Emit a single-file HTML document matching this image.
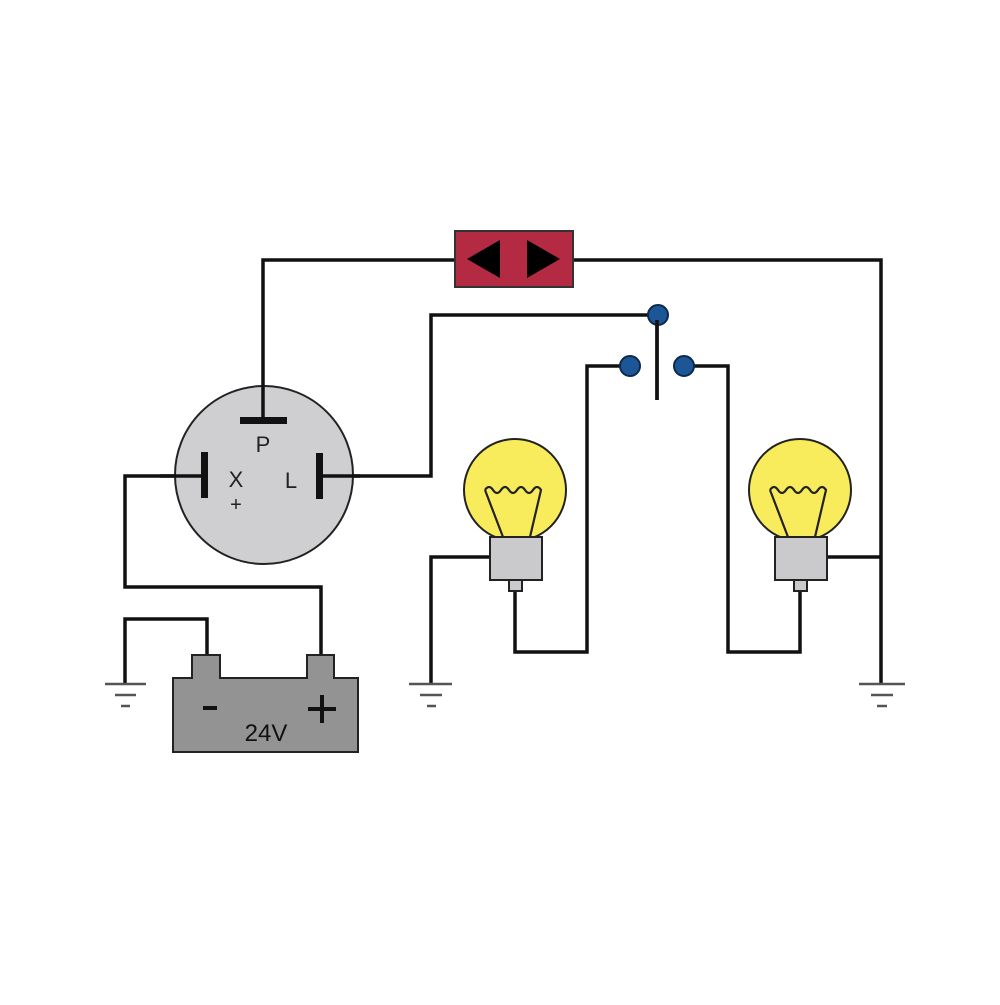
<!DOCTYPE html>
<html><head><meta charset="utf-8"><style>html,body{margin:0;padding:0;background:#fff}</style></head>
<body>
<svg width="1000" height="1000" viewBox="0 0 1000 1000" xmlns="http://www.w3.org/2000/svg" font-family="Liberation Sans, sans-serif">
<rect width="1000" height="1000" fill="#fff"/>
<g fill="none" stroke="#111" stroke-width="3.5">
<!-- P wire -->
<polyline points="263,420 263,260 455,260"/>
<polyline points="573,260 881,260 881,683"/>
<!-- L wire -->
<polyline points="330,476 431,476 431,315 657,315"/>
<!-- X wire -->
<polyline points="205,476 125,476 125,587 321,587 321,655"/>
<!-- battery minus to ground -->
<polyline points="207,655 207,619 125,619 125,683"/>
<!-- switch -->
<line x1="657" y1="315" x2="657" y2="400"/>
<!-- left bulb -->
<polyline points="490,557 431,557 431,683"/>
<polyline points="515,590 515,652 587,652 587,366 630,366"/>
<!-- right bulb -->
<polyline points="827,557 881,557"/>
<polyline points="800,592 800,652 728,652 728,366 684,366"/>
</g>
<!-- grounds -->
<g stroke="#555" stroke-width="2.5">
<line x1="105" y1="684" x2="146" y2="684"/><line x1="115" y1="695" x2="136" y2="695"/><line x1="121" y1="706" x2="130" y2="706"/>
<line x1="409" y1="684" x2="452" y2="684"/><line x1="420" y1="695" x2="442" y2="695"/><line x1="427" y1="706" x2="436" y2="706"/>
<line x1="859" y1="684" x2="905" y2="684"/><line x1="871" y1="695" x2="893" y2="695"/><line x1="877" y1="706" x2="887" y2="706"/>
</g>
<!-- flasher unit -->
<circle cx="264" cy="475" r="89" fill="#cfcfd2" stroke="#222" stroke-width="2"/>
<line x1="263" y1="385" x2="263" y2="420" stroke="#111" stroke-width="3.5"/>
<rect x="240" y="417" width="47" height="7" fill="#111"/>
<rect x="201" y="452" width="7" height="46" fill="#111"/>
<rect x="316" y="453" width="7" height="46" fill="#111"/>
<line x1="160" y1="476" x2="205" y2="476" stroke="#111" stroke-width="3.5"/>
<line x1="320" y1="476" x2="360" y2="476" stroke="#111" stroke-width="3.5"/>
<text x="263" y="452" font-size="22" text-anchor="middle" fill="#222">P</text>
<text x="236" y="487" font-size="22" text-anchor="middle" fill="#222">X</text>
<text x="236" y="511" font-size="20" text-anchor="middle" fill="#222">+</text>
<text x="291" y="488" font-size="22" text-anchor="middle" fill="#222">L</text>
<!-- red box -->
<rect x="455" y="231" width="118" height="56" fill="#b52a43" stroke="#333" stroke-width="2"/>
<polygon points="467,259 500,240 500,278" fill="#000"/>
<polygon points="560,259 527,240 527,278" fill="#000"/>
<!-- switch dots -->
<g fill="#1d5696" stroke="#0d2a4a" stroke-width="2">
<circle cx="658" cy="315" r="10"/><circle cx="630" cy="366" r="10"/><circle cx="684" cy="366" r="10"/>
</g>
<line x1="657" y1="320" x2="657" y2="400" stroke="#111" stroke-width="3.5"/>
<!-- bulbs -->
<g id="b1">
<circle cx="515" cy="490" r="51" fill="#f9ec5c" stroke="#222" stroke-width="2"/>
<path d="M485,490 q4,-6 8,0 q4,6 8,0 q4,-6 8,0 q4,6 8,0 q4,-6 8,0 q4,6 8,0 q4,-6 8,0 L530,537 M485,490 L503,537" fill="none" stroke="#222" stroke-width="2.2"/>
<rect x="490" y="537" width="52" height="43" fill="#cacacc" stroke="#222" stroke-width="2"/>
<rect x="509" y="580" width="13" height="11" fill="#cacacc" stroke="#222" stroke-width="2"/>
</g>
<g transform="translate(285,0)">
<circle cx="515" cy="490" r="51" fill="#f9ec5c" stroke="#222" stroke-width="2"/>
<path d="M485,490 q4,-6 8,0 q4,6 8,0 q4,-6 8,0 q4,6 8,0 q4,-6 8,0 q4,6 8,0 q4,-6 8,0 L530,537 M485,490 L503,537" fill="none" stroke="#222" stroke-width="2.2"/>
<rect x="490" y="537" width="52" height="43" fill="#cacacc" stroke="#222" stroke-width="2"/>
<rect x="509" y="580" width="13" height="11" fill="#cacacc" stroke="#222" stroke-width="2"/>
</g>
<!-- battery -->
<path d="M173,678 H192 V655 H220 V678 H307 V655 H334 V678 H358 V752 H173 Z" fill="#939393" stroke="#222" stroke-width="2"/>
<line x1="203" y1="708" x2="217" y2="708" stroke="#111" stroke-width="4"/>
<line x1="308" y1="709" x2="336" y2="709" stroke="#111" stroke-width="4"/>
<line x1="322" y1="695" x2="322" y2="723" stroke="#111" stroke-width="4"/>
<text x="266" y="741" font-size="24" text-anchor="middle" fill="#111">24V</text>
</svg>
</body></html>
